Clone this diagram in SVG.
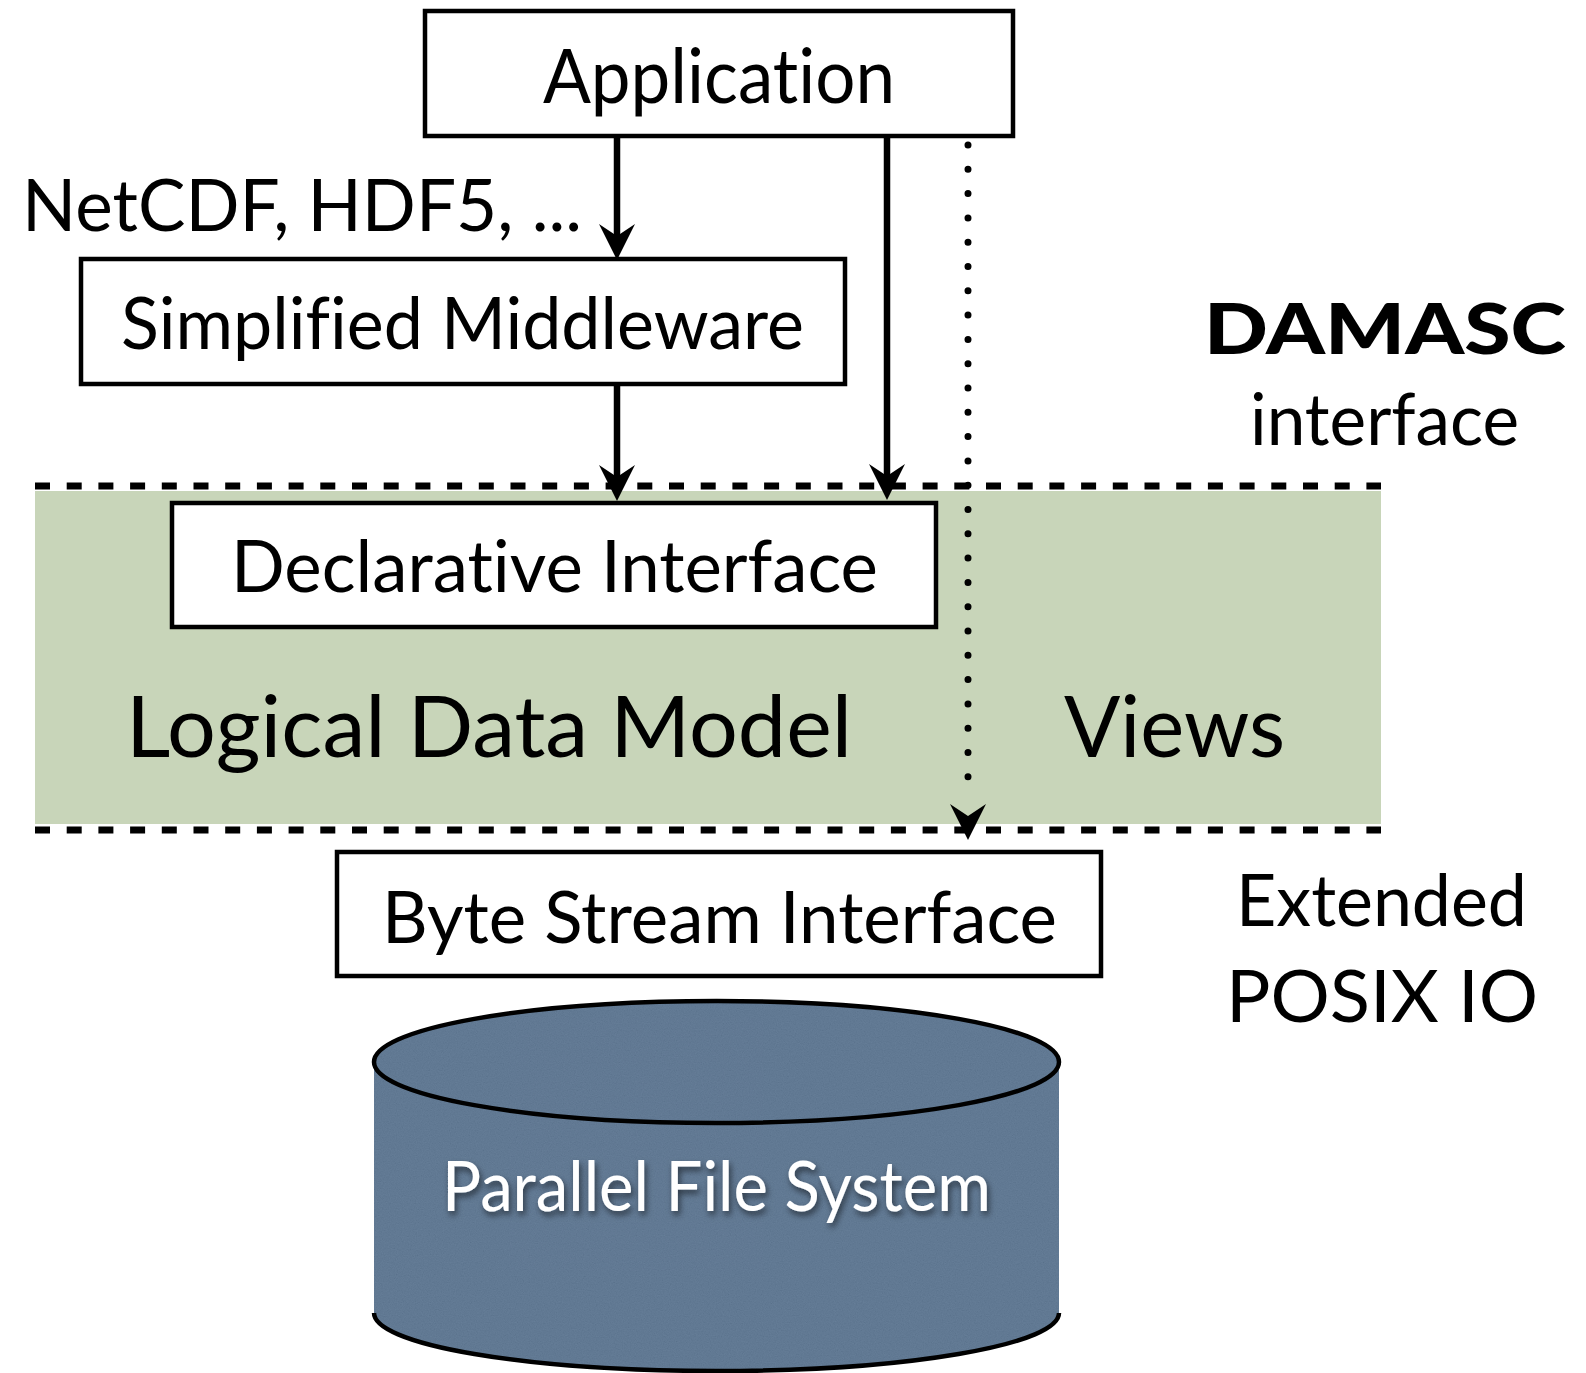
<svg xmlns="http://www.w3.org/2000/svg" width="1586" height="1373" viewBox="0 0 1586 1373">
  <style>
    .box { fill: #ffffff; stroke: #000000; stroke-width: 4.5; }
    .lbl { font-family: Lato, "Noto Sans", "Liberation Sans", sans-serif; fill: #000000; font-variant-ligatures: none; }
    .conn { stroke: #000000; stroke-width: 6.5; fill: none; }
    .head { fill: #000000; }
    .dash { stroke: #000000; stroke-width: 7; stroke-dasharray: 15 16.7; fill: none; }
    .dots { stroke: #000000; stroke-width: 7; stroke-linecap: round; stroke-dasharray: 0 24.3; fill: none; }
    .rim { stroke: #000000; stroke-width: 4.5; fill: none; }
  </style>
  <defs>
    <!-- notched arrowhead, tip at origin, pointing down -->
    <path id="arrowhead" d="M0,0 L-18,-36 L0,-24 L18,-36 Z"/>
    <clipPath id="cylClip">
      <path d="M374,1062 L374,1313 A342.5,58 0 0 0 1059,1313 L1059,1062 A342.5,61 0 0 0 374,1062 Z"/>
    </clipPath>
    <filter id="grain" x="0" y="0" width="100%" height="100%">
      <feTurbulence type="fractalNoise" baseFrequency="0.85" numOctaves="3" seed="4"/>
      <feColorMatrix values="0.33 0.33 0.33 0 0  0.33 0.33 0.33 0 0  0.33 0.33 0.33 0 0  0 0 0 0 1"/>
    </filter>
    <filter id="shadow" x="-10%" y="-30%" width="120%" height="160%">
      <feDropShadow dx="2" dy="4" stdDeviation="3" flood-color="#000000" flood-opacity="0.55"/>
    </filter>
  </defs>

  <!-- DAMASC layer band -->
  <rect x="35" y="491" width="1346" height="333" fill="#c8d5b9"/>
  <line class="dash" x1="35" y1="486" x2="1381" y2="486"/>
  <line class="dash" x1="35" y1="830" x2="1381" y2="830"/>

  <g id="application">
    <rect class="box" x="425" y="11" width="588" height="125"/>
    <text class="lbl" x="543" y="103" font-size="76" textLength="352" lengthAdjust="spacingAndGlyphs">Application</text>
  </g>

  <g id="middleware">
    <rect class="box" x="81" y="259" width="764" height="125"/>
    <text class="lbl" x="121" y="349" font-size="71" textLength="683" lengthAdjust="spacingAndGlyphs">Simplified Middleware</text>
  </g>

  <g id="declarative">
    <rect class="box" x="172" y="503" width="764" height="124"/>
    <text class="lbl" x="231" y="592" font-size="71" textLength="647" lengthAdjust="spacingAndGlyphs">Declarative Interface</text>
  </g>

  <g id="logical-model">
    <text class="lbl" x="126" y="757" font-size="85" textLength="726" lengthAdjust="spacingAndGlyphs">Logical Data Model</text>
  </g>

  <g id="views">
    <text class="lbl" x="1064" y="757" font-size="85" textLength="221" lengthAdjust="spacingAndGlyphs">Views</text>
  </g>

  <g id="bytestream">
    <rect class="box" x="337" y="852" width="764" height="124"/>
    <text class="lbl" x="382" y="943" font-size="71" textLength="675" lengthAdjust="spacingAndGlyphs">Byte Stream Interface</text>
  </g>

  <g id="filesystem">
    <g clip-path="url(#cylClip)">
      <rect x="370" y="995" width="695" height="380" fill="#55708e"/>
      <rect x="370" y="995" width="695" height="380" filter="url(#grain)" opacity="0.12"/>
    </g>
    <ellipse class="rim" cx="716.5" cy="1062" rx="342.5" ry="61"/>
    <path class="rim" d="M374,1313 A342.5,58 0 0 0 1059,1313"/>
    <text class="lbl" x="442" y="1211" font-size="70" style="fill:#ffffff" filter="url(#shadow)" textLength="549" lengthAdjust="spacingAndGlyphs">Parallel File System</text>
  </g>

  <!-- side labels -->
  <g id="labels">
    <text class="lbl" x="22" y="231" font-size="71" textLength="560" lengthAdjust="spacingAndGlyphs">NetCDF, HDF5, ...</text>
    <text class="lbl" x="1204" y="354" font-size="71" font-weight="900" textLength="362" lengthAdjust="spacingAndGlyphs">DAMASC</text>
    <text class="lbl" x="1250" y="445" font-size="71" textLength="269" lengthAdjust="spacingAndGlyphs">interface</text>
    <text class="lbl" x="1236" y="926" font-size="71" textLength="291" lengthAdjust="spacingAndGlyphs">Extended</text>
    <text class="lbl" x="1226" y="1022" font-size="71" textLength="312" lengthAdjust="spacingAndGlyphs">POSIX IO</text>
  </g>

  <!-- connectors -->
  <g id="connectors">
    <line class="conn" x1="617" y1="136" x2="617" y2="240"/>
    <use href="#arrowhead" class="head" x="617" y="260"/>
    <line class="conn" x1="617" y1="382" x2="617" y2="482"/>
    <use href="#arrowhead" class="head" x="617" y="501"/>
    <line class="conn" x1="887" y1="136" x2="887" y2="481"/>
    <use href="#arrowhead" class="head" x="887" y="500"/>
    <line class="dots" x1="968" y1="145" x2="968" y2="800"/>
    <use href="#arrowhead" class="head" x="968" y="840"/>
  </g>
</svg>
